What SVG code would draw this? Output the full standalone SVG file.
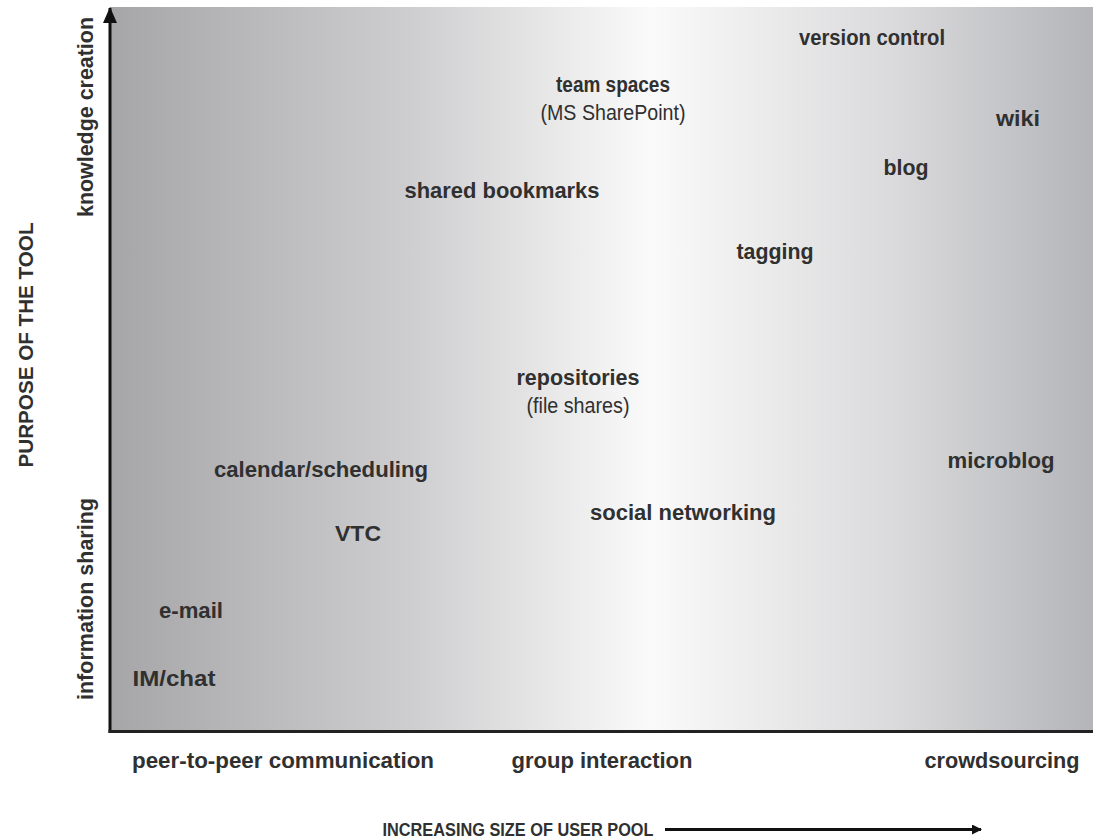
<svg xmlns="http://www.w3.org/2000/svg" width="1093" height="840" viewBox="0 0 1093 840">
<defs>
<linearGradient id="bg" gradientUnits="userSpaceOnUse" x1="110" y1="0" x2="1093" y2="0">
<stop offset="0" stop-color="#a6a6a8"/>
<stop offset="0.3" stop-color="#cdcdcf"/>
<stop offset="0.55" stop-color="#fafafa"/>
<stop offset="0.8" stop-color="#dadadc"/>
<stop offset="1" stop-color="#b4b5b9"/>
</linearGradient>
<marker id="ah" markerWidth="10" markerHeight="10" refX="9" refY="5" orient="auto" markerUnits="userSpaceOnUse" viewBox="0 0 10 10">
<path d="M0,0 L10,5 L0,10 Z" fill="#111"/>
</marker>
<marker id="ahBig" markerWidth="16" markerHeight="14" refX="15" refY="7" orient="auto" markerUnits="userSpaceOnUse" viewBox="0 0 16 14">
<path d="M0,0 L16,7 L0,14 Z" fill="#111"/>
</marker>
</defs>
<style>
text{font-family:"Liberation Sans","DejaVu Sans",sans-serif;fill:#303030;}
.b{font-weight:bold;font-size:22px;}
.r{font-size:22px;}
.ax{font-weight:bold;font-size:22px;}
.cap{font-weight:bold;font-size:19px;}
.capv{font-weight:bold;font-size:20px;}
</style>
<rect x="0" y="0" width="1093" height="840" fill="#ffffff"/>
<rect x="110" y="7" width="983" height="725" fill="url(#bg)"/>
<g id="connectors">
<line x1="110" y1="733" x2="110" y2="8" stroke="#111" stroke-width="3" marker-end="url(#ahBig)"/>
<line x1="108.5" y1="731.5" x2="1093" y2="731.5" stroke="#222" stroke-width="3"/>
<line x1="665" y1="829.5" x2="981" y2="829.5" stroke="#111" stroke-width="3" marker-end="url(#ah)"/>
</g>
<g id="n-version-control"><text class="b" x="872" y="45" text-anchor="middle" textLength="146" lengthAdjust="spacingAndGlyphs">version control</text></g>
<g id="n-team-spaces"><text class="b" x="613" y="92" text-anchor="middle" textLength="114" lengthAdjust="spacingAndGlyphs">team spaces</text><text class="r" x="613" y="120" text-anchor="middle" textLength="145" lengthAdjust="spacingAndGlyphs">(MS SharePoint)</text></g>
<g id="n-wiki"><text class="b" x="1018" y="126" text-anchor="middle" textLength="44" lengthAdjust="spacingAndGlyphs">wiki</text></g>
<g id="n-blog"><text class="b" x="906" y="175" text-anchor="middle" textLength="45" lengthAdjust="spacingAndGlyphs">blog</text></g>
<g id="n-shared-bookmarks"><text class="b" x="502" y="198" text-anchor="middle" textLength="195" lengthAdjust="spacingAndGlyphs">shared bookmarks</text></g>
<g id="n-tagging"><text class="b" x="775" y="259" text-anchor="middle" textLength="77" lengthAdjust="spacingAndGlyphs">tagging</text></g>
<g id="n-repositories"><text class="b" x="578" y="385" text-anchor="middle" textLength="123" lengthAdjust="spacingAndGlyphs">repositories</text><text class="r" x="578" y="413" text-anchor="middle" textLength="103" lengthAdjust="spacingAndGlyphs">(file shares)</text></g>
<g id="n-calendar"><text class="b" x="321" y="477" text-anchor="middle" textLength="214" lengthAdjust="spacingAndGlyphs">calendar/scheduling</text></g>
<g id="n-microblog"><text class="b" x="1001" y="468" text-anchor="middle" textLength="107" lengthAdjust="spacingAndGlyphs">microblog</text></g>
<g id="n-social"><text class="b" x="683" y="520" text-anchor="middle" textLength="186" lengthAdjust="spacingAndGlyphs">social networking</text></g>
<g id="n-vtc"><text class="b" x="358" y="541" text-anchor="middle" textLength="46" lengthAdjust="spacingAndGlyphs">VTC</text></g>
<g id="n-email"><text class="b" x="191" y="618" text-anchor="middle" textLength="64" lengthAdjust="spacingAndGlyphs">e-mail</text></g>
<g id="n-im"><text class="b" x="174" y="686" text-anchor="middle" textLength="83" lengthAdjust="spacingAndGlyphs">IM/chat</text></g>
<g id="axis-x-labels">
<text class="ax" x="283" y="768" text-anchor="middle" textLength="302" lengthAdjust="spacingAndGlyphs">peer-to-peer communication</text>
<text class="ax" x="602" y="768" text-anchor="middle" textLength="181" lengthAdjust="spacingAndGlyphs">group interaction</text>
<text class="ax" x="1002" y="768" text-anchor="middle" textLength="155" lengthAdjust="spacingAndGlyphs">crowdsourcing</text>
<text class="cap" x="518" y="836" text-anchor="middle" textLength="271" lengthAdjust="spacingAndGlyphs">INCREASING SIZE OF USER POOL</text>
</g>
<g id="axis-y-labels">
<text class="capv" transform="translate(33,345) rotate(-90)" text-anchor="middle" textLength="245" lengthAdjust="spacingAndGlyphs">PURPOSE OF THE TOOL</text>
<text class="ax" transform="translate(93,117) rotate(-90)" text-anchor="middle" textLength="200" lengthAdjust="spacingAndGlyphs">knowledge creation</text>
<text class="ax" transform="translate(93,599) rotate(-90)" text-anchor="middle" textLength="202" lengthAdjust="spacingAndGlyphs">information sharing</text>
</g>
</svg>
